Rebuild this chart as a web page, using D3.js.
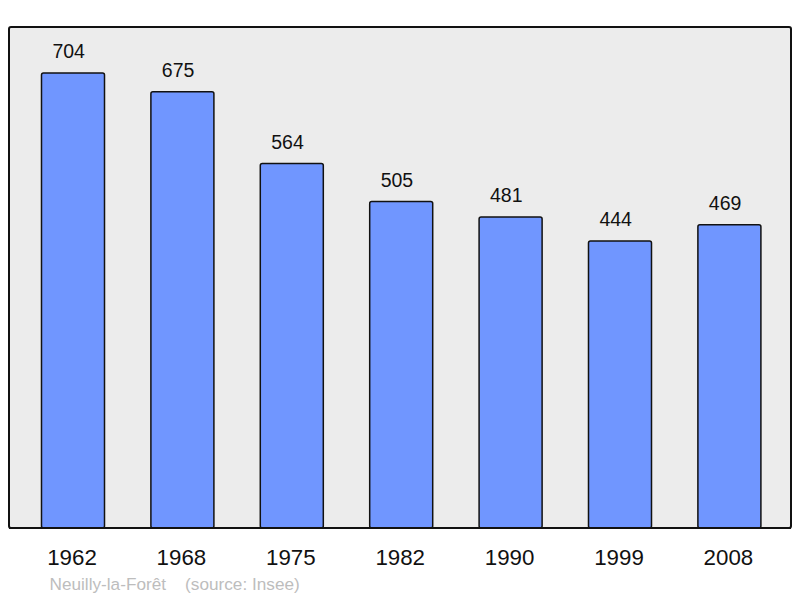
<!DOCTYPE html>
<html><head><meta charset="utf-8">
<script src="https://cdn.jsdelivr.net/npm/d3@7"></script>
<style>body{margin:0;background:#fff}svg{display:block}</style>
</head><body>
<script>
const years = ["1962","1968","1975","1982","1990","1999","2008"];
const population = [704,675,564,505,481,444,469];
const place = "Neuilly-la-Forêt";
const source = "(source: Insee)";

const W = 800, H = 598;
const plot = {x0: 9, y0: 27, x1: 791, y1: 528};
const svg = d3.select("body").append("svg").attr("width", W).attr("height", H);

svg.append("rect").attr("x", plot.x0).attr("y", plot.y0)
  .attr("width", plot.x1 - plot.x0).attr("height", plot.y1 - plot.y0)
  .attr("rx", 2).attr("fill", "#ececec").attr("stroke", "#111").attr("stroke-width", 2);

const x = d3.scaleBand().domain(years).range([18.3, 784.1]).paddingInner(0.424).paddingOuter(0.212);
const y = d3.scaleLinear().domain([0, 775]).range([plot.y1, plot.y0]);
const font = "Liberation Sans, Arial, sans-serif";

const g = svg.append("g");
g.selectAll("rect.bar").data(population).join("rect").attr("class", "bar")
  .attr("x", (d, i) => x(years[i])).attr("y", d => y(d))
  .attr("width", x.bandwidth()).attr("height", d => y(0) - y(d))
  .attr("rx", 2).attr("fill", "#7096ff").attr("stroke", "#111").attr("stroke-width", 1.5);

g.selectAll("text.val").data(population).join("text").attr("class", "val")
  .attr("x", (d, i) => x(years[i]) + x.bandwidth() / 2 - 4.3).attr("y", d => y(d) - 14.7)
  .attr("text-anchor", "middle").attr("font-family", font)
  .attr("font-size", 19.5).attr("fill", "#111").text(d => d);

svg.append("line").attr("x1", plot.x0).attr("x2", plot.x1).attr("y1", plot.y1).attr("y2", plot.y1)
  .attr("stroke", "#111").attr("stroke-width", 2);

const axis = d3.axisBottom(x).tickSize(0).tickPadding(0);
const ax = svg.append("g").attr("transform", `translate(-1,${plot.y1})`).call(axis);
ax.select(".domain").remove();
ax.selectAll("text").attr("y", 37).attr("dy", null)
  .attr("font-family", font).attr("font-size", 22.3).attr("fill", "#111");

svg.append("text").attr("x", 49.5).attr("y", 590)
  .attr("font-family", font).attr("font-size", 17.2).attr("fill", "#bdbdbd")
  .attr("xml:space", "preserve").style("white-space", "pre").text(place + "    " + source);
</script>
</body></html>
